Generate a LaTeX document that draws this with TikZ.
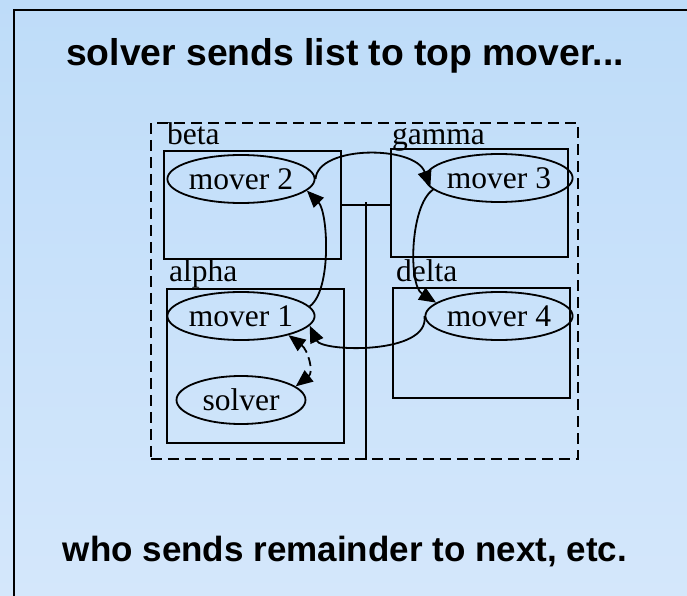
\documentclass[tikz,border=0pt]{standalone}
\usepackage{fontspec}
\setmainfont{Liberation Serif}
\setsansfont{Liberation Sans}
\usetikzlibrary{arrows.meta,shapes.geometric}
\definecolor{bgtop}{RGB}{190,220,249}
\definecolor{bgbot}{RGB}{212,231,251}
\begin{document}
\begin{tikzpicture}[x=1pt,y=-1pt,
  boxnode/.style={draw, line width=2pt, minimum width=177pt, anchor=north west, inner sep=0pt},
  mover/.style={ellipse, draw, line width=1.8pt, minimum width=129pt, minimum height=48pt, inner sep=0pt, font=\fontsize{31.5}{36}\selectfont},
  lbl/.style={anchor=base west, inner sep=0pt, font=\fontsize{31.5}{36}\selectfont},
  conn/.style={line width=1.8pt, -{Triangle[length=17pt,width=14pt]}},
  dconn/.style={line width=1.8pt, dash pattern=on 9pt off 5pt, {Triangle[length=17pt,width=14pt]}-{Triangle[length=17pt,width=14pt]}}
]
\useasboundingbox (0,0) rectangle (687,596);
\fill[top color=bgtop, bottom color=bgbot] (0,0) rectangle (687,596);
\draw[line width=2.2pt] (14,596) -- (14,10) -- (687,10);

\node[font=\fontsize{37.3}{42}\selectfont\sffamily\bfseries] (title) at (345,56) {solver sends list to top mover...};
\node[font=\fontsize{35}{42}\selectfont\sffamily\bfseries] (foot) at (345,552) {who sends remainder to next, etc.};

\node[draw, line width=1.8pt, dash pattern=on 11pt off 6pt, minimum width=427pt, minimum height=336pt, anchor=north west, inner sep=0pt] (outer) at (150,122) {};

\node[boxnode, minimum height=108pt] (beta) at (163,150) {};
\node[boxnode, minimum height=108pt] (gamma) at (390,148) {};
\node[boxnode, minimum height=154pt] (alpha) at (166,288) {};
\node[boxnode, minimum height=110pt] (delta) at (392,287) {};

\node[lbl] (betaL) at (167,145) {beta};
\node[lbl] (gammaL) at (392,145) {gamma};
\node[lbl] (alphaL) at (169,281) {alpha};
\node[lbl] (deltaL) at (396,281) {delta};

\node[mover] (m2) at (241,179) {mover 2};
\node[mover] (m3) at (499,178) {mover 3};
\node[mover] (m1) at (241,316) {mover 1};
\node[mover] (m4) at (499,316) {mover 4};
\node[mover] (solver) at (241,400) {solver};

\coordinate (j) at (366,202);
\draw[line width=1.8pt] (beta.east) -- (gamma.west |- beta.east);
\draw[line width=1.8pt] (j) -- (j |- outer.south);

\draw[conn] (m2.0) .. controls (318,145) and (415,145) .. (m3.188);
\draw[conn] (m3.190) .. controls (410,205) and (408,285) .. (m4.168);
\draw[conn] (m4.180) .. controls (430,355) and (322,352) .. (m1.-8);
\draw[conn] (m1.8) .. controls (332,290) and (328,212) .. (m2.-10);
\draw[dconn] (m1.-22) .. controls (308,350) and (314,372) .. (solver.14);
\end{tikzpicture}
\end{document}
